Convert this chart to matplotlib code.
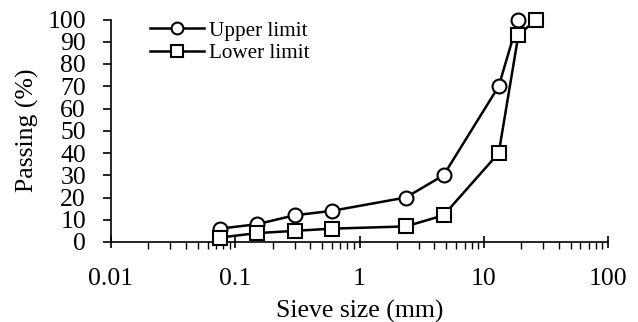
import matplotlib
matplotlib.use("Agg")
import matplotlib.pyplot as plt
from matplotlib.ticker import LogLocator, NullFormatter, FixedLocator

plt.rcParams['font.family'] = ['Liberation Serif', 'DejaVu Serif']

sieve_upper = [0.075, 0.15, 0.3, 0.6, 2.36, 4.75, 13.2, 19]
upper = [6, 8, 12, 14, 20, 30, 70, 100]
sieve_lower = [0.075, 0.15, 0.3, 0.6, 2.36, 4.75, 13.2, 19, 26.5]
lower = [2, 4, 5, 6, 7, 12, 40, 93, 100]
xticks = [0.01, 0.1, 1, 10, 100]
xticklabels = ['0.01', '0.1', '1', '10', '100']
yticks = list(range(0, 101, 10))

fig = plt.figure(figsize=(6.38, 3.22), dpi=100)
ax = fig.add_axes([111/638, 1-242/322, (608-111)/638, (242-19.5)/322])

ax.plot(sieve_upper, upper, color='black', lw=1.8, marker='o', ms=10,
        mfc='white', mec='black', mew=1.5, label='Upper limit', clip_on=False, zorder=3)
ax.plot(sieve_lower, lower, color='black', lw=1.8, marker='s', ms=10,
        mfc='white', mec='black', mew=1.5, label='Lower limit', clip_on=False, zorder=3)

ax.set_xscale('log')
ax.set_xlim(0.01, 100)
ax.set_ylim(0, 100)
ax.xaxis.set_major_locator(FixedLocator(xticks))
ax.set_xticklabels(xticklabels)
ax.xaxis.set_minor_locator(LogLocator(base=10, subs=range(2, 10)))
ax.xaxis.set_minor_formatter(NullFormatter())
ax.set_yticks(yticks)

for s in ['top', 'right']:
    ax.spines[s].set_visible(False)
for s in ['left', 'bottom']:
    ax.spines[s].set_linewidth(1.2)

ax.tick_params(axis='x', which='major', direction='inout', length=9, width=1.2,
               labelsize=18.5, pad=14)
ax.tick_params(axis='x', which='minor', direction='out', length=5, width=1.0)
ax.tick_params(axis='y', which='major', direction='out', length=6, width=1.2,
               labelsize=18.5, pad=12)

ax.set_xlabel('Sieve size (mm)', fontsize=18.5, labelpad=7)
ax.set_ylabel('Passing (%)', fontsize=18.5, labelpad=6)

leg = ax.legend(loc='upper left', bbox_to_anchor=(150/638, 1-21/322),
                bbox_transform=fig.transFigure, frameon=False, fontsize=15.2,
                handlelength=2.55, handletextpad=0.25, labelspacing=0.12,
                borderpad=0, borderaxespad=0, markerscale=0.85)

fig.savefig('out.png', dpi=100)
